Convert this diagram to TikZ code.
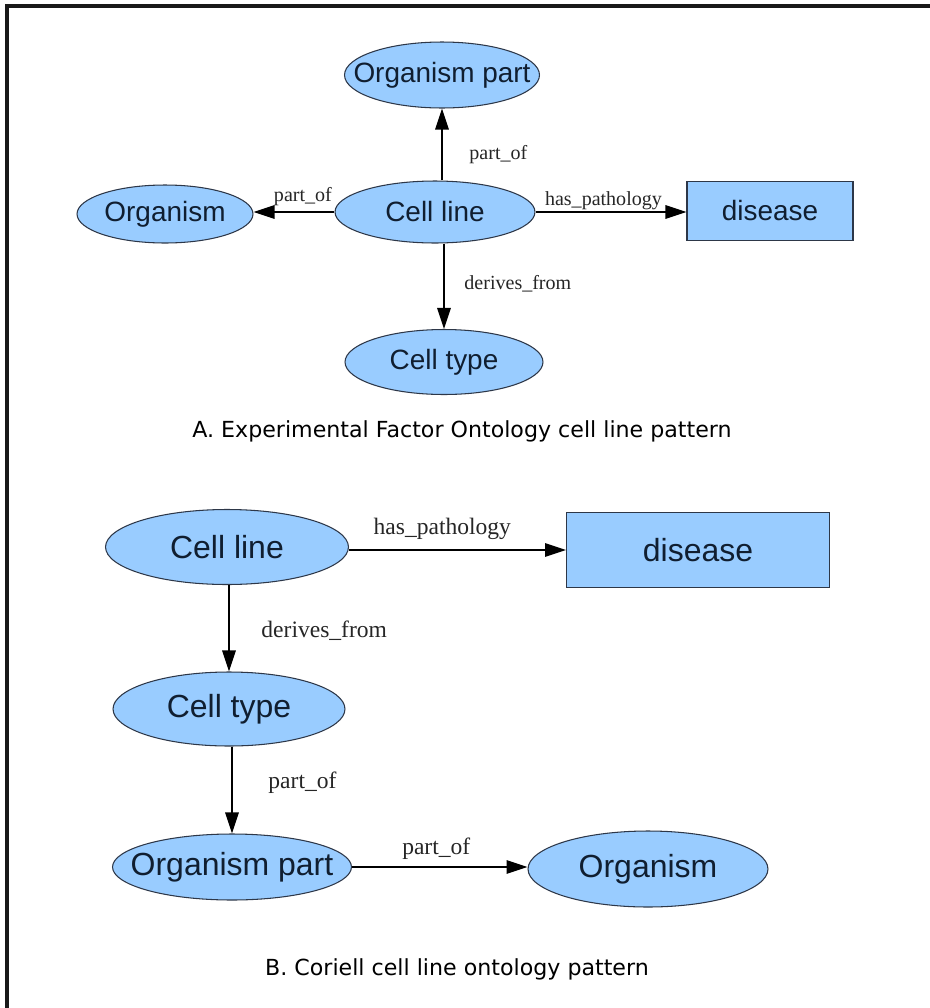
\documentclass[tikz,border=0pt]{standalone}
\usepackage{fontspec}
\usepackage{tikz}
\usetikzlibrary{shapes.geometric,arrows.meta}

\newfontfamily\termfont{Liberation Sans}
\newfontfamily\relfont{Liberation Serif}
\newfontfamily\capfont{DejaVu Sans}

\definecolor{termblue}{RGB}{153,204,255}
\definecolor{termline}{RGB}{45,55,72}
\definecolor{termink}{RGB}{16,30,48}

% text that does not widen the ellipse around it
\newcommand{\termtext}[1]{\makebox[0pt]{#1}}

\begin{document}
\begin{tikzpicture}[x=0.02cm,y=-0.02cm,
    term/.style={ellipse,draw=termline,fill=termblue,line width=0.6pt,inner sep=0pt,text=termink},
    termbox/.style={rectangle,draw=termline,fill=termblue,line width=0.6pt,inner sep=0pt,text=termink},
    smallterm/.style={font=\termfont\fontsize{15.9}{18}\selectfont},
    bigterm/.style={font=\termfont\fontsize{18.2}{21}\selectfont},
    rel/.style={-{Triangle[length=0.42cm,width=0.27cm]},line width=0.8pt,black},
    smallrel/.style={font=\relfont\fontsize{11.4}{13}\selectfont,inner sep=1pt,text=black!85},
    bigrel/.style={font=\relfont\fontsize{13.4}{15}\selectfont,inner sep=1pt,text=black!85},
    caption/.style={font=\capfont\fontsize{12.6}{15}\selectfont,text=black}]

    \useasboundingbox (0,0) rectangle (930,1008);
    \fill[white] (0,0) rectangle (930,1008);
    \draw[line width=2.2pt,black!90] (7,1008) -- (7,6) -- (930,6);

    % EFO pattern
    \node[term,smallterm,minimum width=3.9cm,minimum height=1.32cm] (opA) at (442,75) {\termtext{Organism part}};
    \node[term,smallterm,minimum width=4cm,minimum height=1.24cm] (clA) at (435,212) {\termtext{Cell line}};
    \node[term,smallterm,minimum width=3.52cm,minimum height=1.16cm] (orgA) at (165,214) {\termtext{Organism}};
    \node[termbox,smallterm,minimum width=3.32cm,minimum height=1.18cm] (disA) at (770,211) {disease};
    \node[term,smallterm,minimum width=3.96cm,minimum height=1.3cm] (ctA) at (444,362) {\termtext{Cell type}};

    \draw[rel] (clA.north -| opA.south) -- (opA.south)
        node[smallrel,pos=0.36,anchor=west,xshift=0.5cm] {part\_of};
    \draw[rel] (clA.west) -- (clA.west -| orgA.east)
        node[smallrel,pos=0.39,anchor=south,yshift=2pt] {part\_of};
    \draw[rel] (clA.east) -- (clA.east -| disA.west)
        node[smallrel,pos=0.45,anchor=south] {has\_pathology};
    \draw[rel] (clA.south -| ctA.north) -- (ctA.north)
        node[smallrel,pos=0.47,anchor=west,xshift=0.36cm] {derives\_from};

    \node[caption] (capA) at (462,431) {A. Experimental Factor Ontology cell line pattern};

    % Coriell pattern
    \node[term,bigterm,minimum width=4.86cm,minimum height=1.5cm] (clB) at (227,547) {\termtext{Cell line}};
    \node[termbox,bigterm,minimum width=5.26cm,minimum height=1.5cm] (disB) at (698,550) {disease};
    \node[term,bigterm,minimum width=4.64cm,minimum height=1.48cm] (ctB) at (229,709) {\termtext{Cell type}};
    \node[term,bigterm,minimum width=4.78cm,minimum height=1.32cm] (opB) at (232,867) {\termtext{Organism part}};
    \node[term,bigterm,minimum width=4.8cm,minimum height=1.52cm] (orgB) at (648,869) {\termtext{Organism}};

    \draw[rel] (clB.east |- disB.west) -- (disB.west)
        node[bigrel,pos=0.43,anchor=south,yshift=0.16cm] {has\_pathology};
    \draw[rel] (clB.south -| ctB.north) -- (ctB.north)
        node[bigrel,pos=0.53,anchor=west,xshift=0.6cm] {derives\_from};
    \draw[rel] (ctB.south -| opB.north) -- (opB.north)
        node[bigrel,pos=0.42,anchor=west,xshift=0.68cm] {part\_of};
    \draw[rel] (opB.east) -- (opB.east -| orgB.west)
        node[bigrel,pos=0.48,anchor=south,yshift=3pt] {part\_of};

    \node[caption] (capB) at (457,969) {B. Coriell cell line ontology pattern};
\end{tikzpicture}
\end{document}
